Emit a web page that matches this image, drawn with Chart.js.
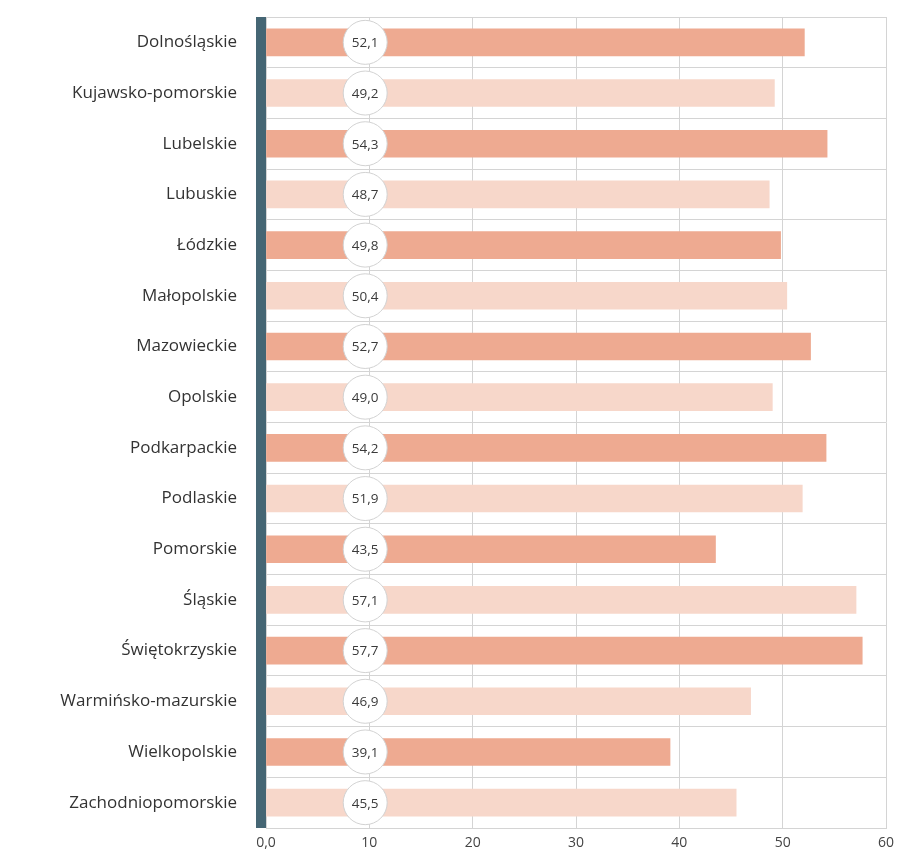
<!DOCTYPE html>
<html>
<head>
<meta charset="utf-8">
<script src="https://cdn.jsdelivr.net/npm/chart.js@4/dist/chart.umd.min.js"></script>
<style>
html,body{margin:0;padding:0;background:#fff;}
#wrap{width:906px;height:855px;position:relative;}
</style>
</head>
<body>
<div id="wrap"><canvas id="c"></canvas></div>
<script>
const categories = ['Dolnośląskie','Kujawsko-pomorskie','Lubelskie','Lubuskie','Łódzkie','Małopolskie','Mazowieckie','Opolskie','Podkarpackie','Podlaskie','Pomorskie','Śląskie','Świętokrzyskie','Warmińsko-mazurskie','Wielkopolskie','Zachodniopomorskie'];
const values = [52.1,49.2,54.3,48.7,49.8,50.4,52.7,49.0,54.2,51.9,43.5,57.1,57.7,46.9,39.1,45.5];
const tickValues = [0,10,20,30,40,50,60];
const labelPos = 9.6;

const DARK = '#EEAA91';
const LIGHT = '#F7D7CA';
const fmt = v => v.toFixed(1).replace('.', ',');

function noPad(s) { s.paddingTop = 0; s.paddingBottom = 0; s.paddingLeft = 0; s.paddingRight = 0; }

const decor = {
  id: 'decor',
  afterDatasetsDraw(chart) {
    const ctx = chart.ctx, a = chart.chartArea;
    const xs = chart.scales.x, ys = chart.scales.y;
    ctx.save();
    ctx.fillStyle = '#456674';
    ctx.fillRect(a.left - 10, a.top, 10, a.bottom - a.top);
    const cx = xs.getPixelForValue(labelPos);
    values.forEach((v, i) => {
      const cy = ys.getPixelForValue(i);
      ctx.beginPath();
      ctx.arc(cx, cy, 22, 0, Math.PI * 2);
      ctx.fillStyle = '#ffffff';
      ctx.fill();
      ctx.lineWidth = 1;
      ctx.strokeStyle = '#d2d2d2';
      ctx.stroke();
      ctx.fillStyle = '#3a3a3a';
      ctx.font = '13.5px "Open Sans"';
      ctx.textAlign = 'center';
      ctx.textBaseline = 'middle';
      ctx.fillText(fmt(v), cx, cy + 1);
    });
    ctx.restore();
  }
};

new Chart(document.getElementById('c'), {
  type: 'bar',
  data: {
    labels: categories,
    datasets: [{
      data: values,
      backgroundColor: values.map((v, i) => i % 2 === 0 ? DARK : LIGHT),
      barThickness: 27,
      borderWidth: 0
    }]
  },
  options: {
    indexAxis: 'y',
    responsive: true,
    maintainAspectRatio: false,
    animation: false,
    layout: { padding: { left: 0, top: 17, right: 20, bottom: 0 } },
    plugins: { legend: { display: false }, tooltip: { enabled: false } },
    scales: {
      x: {
        min: 0, max: 60,
        afterBuildTicks(s) { s.ticks = tickValues.map(v => ({ value: v })); },
        afterFit(s) { s.height = 27; noPad(s); },
        grid: { color: '#d4d4d4', lineWidth: 1, drawTicks: false },
        border: { display: true, color: '#d4d4d4' },
        ticks: {
          padding: 7,
          color: '#444',
          font: { family: 'Open Sans', size: 14 },
          callback: v => v === 0 ? '0,0' : String(v)
        }
      },
      y: {
        afterFit(s) { s.width = 266; noPad(s); },
        grid: { color: '#d4d4d4', lineWidth: 1, drawTicks: false, offset: true },
        border: { display: false },
        ticks: {
          padding: 29,
          color: '#333',
          font: { family: 'Open Sans', size: 17 }
        }
      }
    }
  },
  plugins: [decor]
});
</script>
</body>
</html>
